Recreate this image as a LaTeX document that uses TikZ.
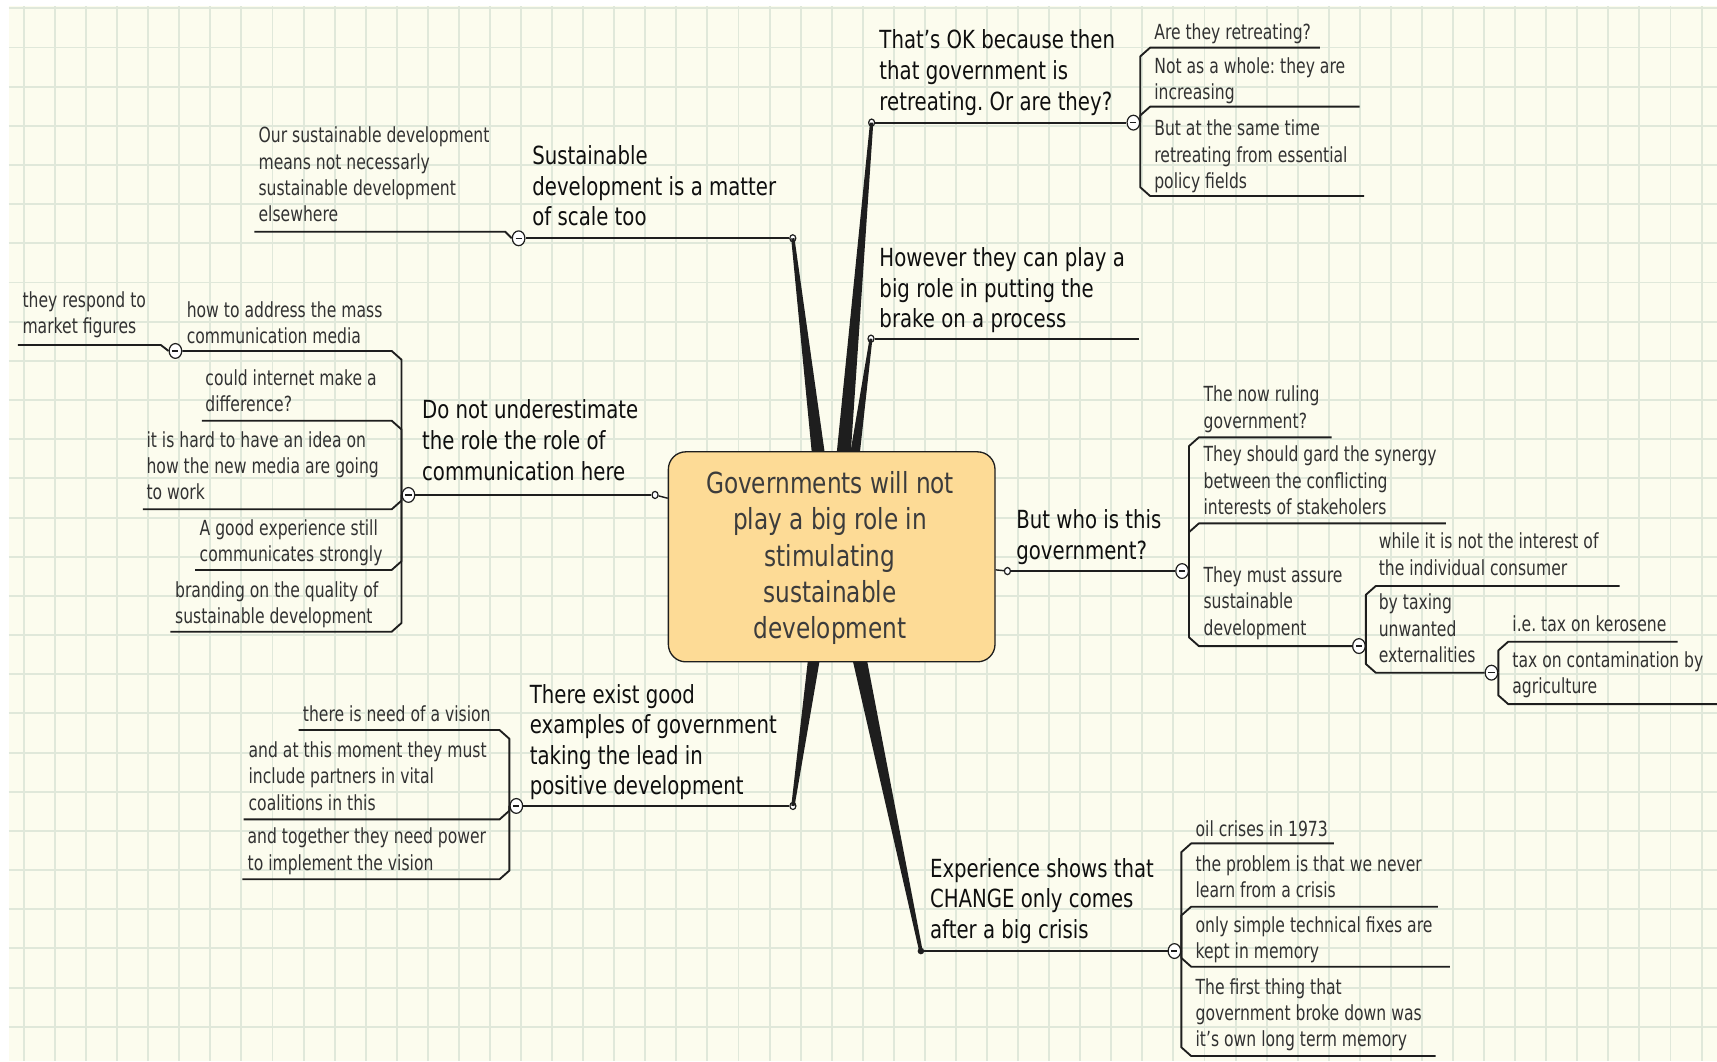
\documentclass[tikz,border=0pt]{standalone}
\usepackage{fontspec}
\setmainfont{DejaVu Sans}
\usetikzlibrary{calc,shapes.geometric}
\frenchspacing

\definecolor{paper}{RGB}{252,252,238}
\definecolor{gridline}{RGB}{224,232,218}
\definecolor{topicfill}{RGB}{253,219,150}
\definecolor{linecol}{RGB}{30,30,30}
\definecolor{kidtext}{RGB}{50,50,50}
\definecolor{branchtext}{RGB}{15,15,15}
\definecolor{titletext}{RGB}{60,60,60}

% tapered main branch: base point, tip point, base half width, tip half width
\newcommand\taperbranch[4]{%
  \fill[linecol] ($(#1)!#3!90:(#2)$) -- ($(#2)!#4!-90:(#1)$) -- ($(#2)!#4!90:(#1)$) -- ($(#1)!#3!-90:(#2)$) -- cycle;}

\begin{document}
\begin{tikzpicture}[x=1pt,y=-1pt,
  % texts are placed by the baseline of their last line
  kid/.style={anchor=base west, inner sep=0pt, align=left, font=\fontsize{19}{24}\selectfont, xscale=0.75, text=kidtext},
  branch/.style={anchor=base west, inner sep=0pt, align=left, font=\fontsize{22.8}{27.9}\selectfont, xscale=0.79, text=branchtext},
  link/.style={draw=linecol, line width=1.7pt, line join=round},
  collapse/.style={ellipse, draw=linecol, fill=white, line width=1.1pt, inner sep=0pt, minimum width=11.5pt, minimum height=13.5pt,
    path picture={\draw[linecol, line width=1.3pt] ([xshift=-2.8pt]path picture bounding box.center) -- ([xshift=2.8pt]path picture bounding box.center);}},
  joint/.style={ellipse, draw=linecol, fill=white, line width=1.1pt, inner sep=0pt, minimum width=5.5pt, minimum height=6.5pt},
]
\useasboundingbox (0,0) rectangle (1568,969);
% squared paper
\fill[white] (0,0) rectangle (1568,969);
\fill[paper] (8.2,5.5) rectangle (1568,969);
\foreach \i in {0,...,54} \draw[gridline, line width=1.8pt] ({21.9+28.37*\i},5.5) -- ({21.9+28.37*\i},969);
\foreach \j in {0,...,26} \draw[gridline, line width=1.8pt] (8.2,{7.6+35.77*\j}) -- (1568,{7.6+35.77*\j});

% junction points of the main branches
\node[joint] (psus) at (724,217.6) {};
\node[joint] (pok) at (796,112) {};
\node[joint] (phow) at (795.4,309.3) {};
\node[joint] (pcom) at (598.2,452) {};
\node[joint] (pwho) at (920,521.5) {};
\node[joint] (pgood) at (724.1,736) {};
\node[circle, fill=linecol, inner sep=0pt, minimum size=6pt] (pexp) at (841,868.5) {};

% bases of the tapered branches on the central topic
\coordinate (tsus) at (748,420);
\coordinate (tok) at (770,420);
\coordinate (thow) at (780,420);
\coordinate (tgood) at (744,597);
\coordinate (texp) at (784,597);
\taperbranch{tsus}{psus}{6pt}{1.5pt}
\taperbranch{tok}{pok}{6.5pt}{1.5pt}
\taperbranch{thow}{phow}{4.5pt}{1.3pt}
\taperbranch{tgood}{pgood}{5.5pt}{1.5pt}
\taperbranch{texp}{pexp}{6.5pt}{1.6pt}

% central topic
\node[draw=linecol, line width=1.2pt, fill=topicfill, rounded corners=16pt, minimum width=298.3pt, minimum height=191.8pt, inner sep=0pt] (gov) at (759.5,508.5) {};
\node[anchor=base, inner sep=0pt, align=center, font=\fontsize{26.5}{33.2}\selectfont, xscale=0.8, text=titletext] (govtext) at (758,583.3)
  {Governments will not\\play a big role in\\stimulating\\sustainable\\development};
\draw[link, line width=1.3pt] (gov.west |- 0,455) -- (pcom);
\draw[link, line width=1.3pt] (gov.east |- 0,520.4) -- (pwho);

% collapse markers
\node[collapse] (ksus) at (473.6,217.6) {};
\node[collapse] (kok) at (1035,112) {};
\node[collapse] (kcom) at (373,452) {};
\node[collapse] (kc1) at (160.2,320.5) {};
\node[collapse] (kwho) at (1079.5,521.5) {};
\node[collapse] (kw3) at (1241,590) {};
\node[collapse] (kg2) at (1362,614.3) {};
\node[collapse] (kgood) at (471.5,736) {};
\node[collapse] (kexp) at (1072.5,868.5) {};
\coordinate (howend) at (1040,309.3);

% main branch underlines
\draw[link] (psus) -- (ksus);
\draw[link] (pok) -- (kok);
\draw[link] (phow) -- (howend);
\draw[link] (pcom) -- (kcom);
\draw[link] (pwho) -- (kwho);
\draw[link] (pgood) -- (kgood);
\draw[link] (pexp) -- (kexp);

% sub-topic underlines
\draw[link] (ksus.west) -- (461.4,211.6) -- (232.4,211.6);

\draw[link] (kok.east) -- (kok.east |- 0,51.5) -- ++(9,-8) -- (1205.4,43.5);
\draw[link] (kok.east) -- (kok.east |- 0,105.4) -- ++(9,-8) -- (1241.7,97.4);
\draw[link] (kok.east) -- (kok.east |- 0,171) -- ++(9,8) -- (1245.7,179);

\draw[link] (kcom.west) -- (kcom.west |- 0,328.5) -- ++(-9,-8) -- (kc1);
\draw[link] (kcom.west) -- (kcom.west |- 0,392.2) -- ++(-9,-8) -- (184.3,384.2);
\draw[link] (kcom.west) -- (kcom.west |- 0,457.1) -- ++(-9,8) -- (130.5,465.1);
\draw[link] (kcom.west) -- (kcom.west |- 0,512.5) -- ++(-9,8) -- (178.1,520.5);
\draw[link] (kcom.west) -- (kcom.west |- 0,568.9) -- ++(-9,8) -- (155.7,576.9);
\draw[link] (kc1.west) -- (146.8,315) -- (16.3,315);

\draw[link] (kwho.east) -- (kwho.east |- 0,407.4) -- ++(9,-8) -- (1216,399.4);
\draw[link] (kwho.east) -- (kwho.east |- 0,486) -- ++(9,-8) -- (1320.4,478);
\draw[link] (kwho.east) -- (kwho.east |- 0,582) -- ++(9,8) -- (kw3);
\draw[link] (kw3.east) -- (kw3.east |- 0,543.2) -- ++(9,-8) -- (1479,535.2);
\draw[link] (kw3.east) -- (kw3.east |- 0,606.3) -- ++(9,8) -- (kg2);
\draw[link] (kg2.east) -- (kg2.east |- 0,594) -- ++(9,-8) -- (1532,586);
\draw[link] (kg2.east) -- (kg2.east |- 0,635) -- ++(9,8) -- (1568,643);

\draw[link] (kgood.west) -- (kgood.west |- 0,674.7) -- ++(-9,-8) -- (272.8,666.7);
\draw[link] (kgood.west) -- (kgood.west |- 0,740.3) -- ++(-9,8) -- (222.4,748.3);
\draw[link] (kgood.west) -- (kgood.west |- 0,795) -- ++(-9,8) -- (221.3,803);

\draw[link] (kexp.east) -- (kexp.east |- 0,778.2) -- ++(9,-8) -- (1218,770.2);
\draw[link] (kexp.east) -- (kexp.east |- 0,836) -- ++(9,-8) -- (1313,828);
\draw[link] (kexp.east) -- (kexp.east |- 0,874.8) -- ++(9,8) -- (1324,882.8);
\draw[link] (kexp.east) -- (kexp.east |- 0,956.4) -- ++(9,8) -- (1311,964.4);

% main branch texts
\node[branch] (bsus) at (486,206) {Sustainable\\development is a matter\\of scale too};
\node[branch] (bok) at (803,100.5) {That's OK because then\\that government is\\retreating. Or are they?};
\node[branch] (bhow) at (803,299.2) {However they can play a\\big role in putting the\\brake on a process};
\node[branch] (bcom) at (385.3,438.4) {Do not underestimate\\the role the role of\\communication here};
\node[branch] (bwho) at (928,510.5) {But who is this\\government?};
\node[branch] (bgood) at (483.7,726) {There exist good\\examples of government\\taking the lead in\\positive development};
\node[branch] (bexp) at (849.2,856.9) {Experience shows that\\CHANGE only comes\\after a big crisis};

% sub-topic texts
\node[kid] (sus1) at (236,202.5) {Our sustainable development\\means not necessarly\\sustainable development\\elsewhere};
\node[kid] (ok1) at (1054,35.9) {Are they retreating?};
\node[kid] (ok2) at (1054,91.3) {Not as a whole: they are\\increasing};
\node[kid] (ok3) at (1054,172) {But at the same time\\retreating from essential\\policy fields};
\node[kid] (gc1) at (20.4,304.4) {they respond to\\market figures};
\node[kid] (com1) at (170.4,313.5) {how to address the mass\\communication media};
\node[kid] (com2) at (187.5,376) {could internet make a\\difference?};
\node[kid] (com3) at (133.7,456.6) {it is hard to have an idea on\\how the new media are going\\to work};
\node[kid] (com4) at (182.2,513) {A good experience still\\communicates strongly};
\node[kid] (com5) at (159.8,569.2) {branding on the quality of\\sustainable development};
\node[kid] (who1) at (1099,391) {The now ruling\\government?};
\node[kid] (who2) at (1099,469.7) {They should gard the synergy\\between the conflicting\\interests of stakeholers};
\node[kid] (who3) at (1099,579.9) {They must assure\\sustainable\\development};
\node[kid] (g1) at (1259,525.1) {while it is not the interest of\\the individual consumer};
\node[kid] (g2) at (1259,604.9) {by taxing\\unwanted\\externalities};
\node[kid] (gg1) at (1381,576.9) {i.e. tax on kerosene};
\node[kid] (gg2) at (1381,633.2) {tax on contamination by\\agriculture};
\node[kid] (good1) at (276.5,659.1) {there is need of a vision};
\node[kid] (good2) at (226.9,739.7) {and at this moment they must\\include partners in vital\\coalitions in this};
\node[kid] (good3) at (226,794.5) {and together they need power\\to implement the vision};
\node[kid] (exp1) at (1091.7,764) {oil crises in 1973};
\node[kid] (exp2) at (1091.7,819.5) {the problem is that we never\\learn from a crisis};
\node[kid] (exp3) at (1091.7,875.2) {only simple technical fixes are\\kept in memory};
\node[kid] (exp4) at (1091.7,955.9) {The first thing that\\government broke down was\\it's own long term memory};
\end{tikzpicture}
\end{document}
